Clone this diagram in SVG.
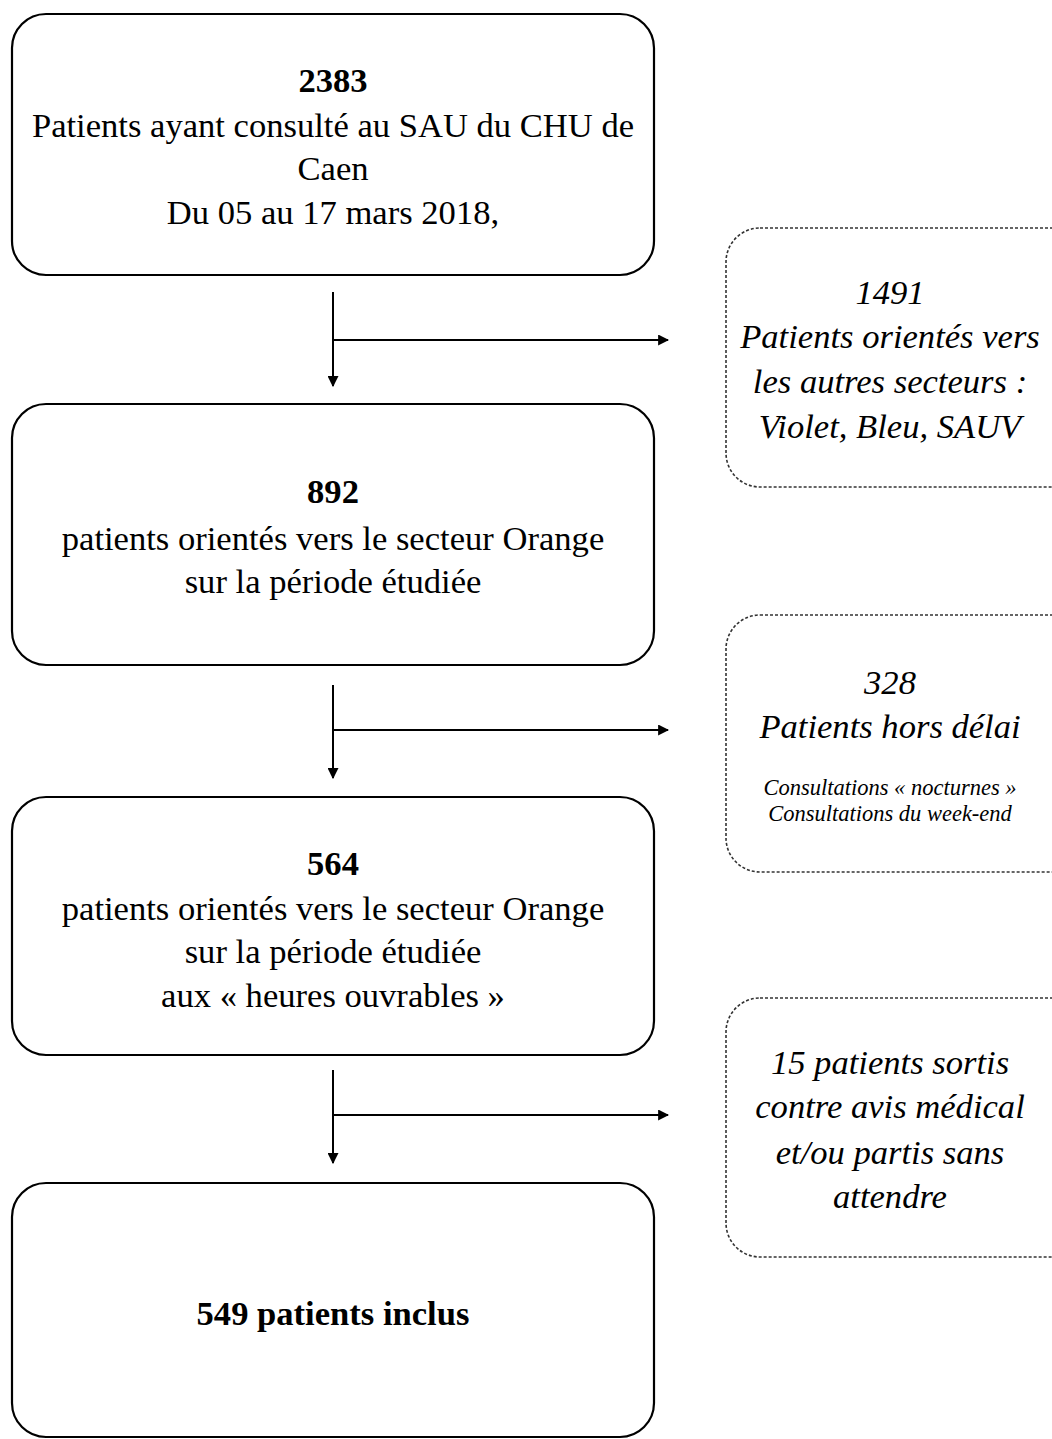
<svg xmlns="http://www.w3.org/2000/svg" width="1052" height="1439" viewBox="0 0 1052 1439">
<style>
.box{fill:#fff;stroke:#000;stroke-width:2.2}
.dbox{fill:#fff;stroke:#333;stroke-width:1.6;stroke-dasharray:3 2}
.t{font-family:"Liberation Serif","Times New Roman",serif;font-size:34.6px;fill:#000;text-anchor:middle}
.b{font-weight:bold}
.i{font-style:italic}
.s{font-size:22.5px}
.c{stroke:#000;stroke-width:2;fill:none}
</style>
<defs>
<marker id="ah" viewBox="0 0 10 10" refX="9" refY="5" markerWidth="5.5" markerHeight="5.5" orient="auto" markerUnits="strokeWidth">
<path d="M0,0 L10,5 L0,10 z" fill="#000"/>
</marker>
</defs>
<rect width="1052" height="1439" fill="#fff"/>
<g id="connectors">
<path class="c" d="M333,292 V386" marker-end="url(#ah)"/>
<path class="c" d="M333,340 H668" marker-end="url(#ah)"/>
<path class="c" d="M333,685 V778" marker-end="url(#ah)"/>
<path class="c" d="M333,730 H668" marker-end="url(#ah)"/>
<path class="c" d="M333,1070 V1163" marker-end="url(#ah)"/>
<path class="c" d="M333,1115 H668" marker-end="url(#ah)"/>
</g>
<g id="n1">
<rect class="box" x="12" y="14" width="642" height="261" rx="34"/>
<text class="t b" x="333" y="92">2383</text>
<text class="t" x="333" y="137">Patients ayant consulté au SAU du CHU de</text>
<text class="t" x="333" y="180">Caen</text>
<text class="t" x="333" y="224">Du 05 au 17 mars 2018,</text>
</g>
<g id="n2">
<rect class="box" x="12" y="404" width="642" height="261" rx="34"/>
<text class="t b" x="333" y="503">892</text>
<text class="t" x="333" y="550">patients orientés vers le secteur Orange</text>
<text class="t" x="333" y="593">sur la période étudiée</text>
</g>
<g id="n3">
<rect class="box" x="12" y="797" width="642" height="258" rx="34"/>
<text class="t b" x="333" y="875">564</text>
<text class="t" x="333" y="920">patients orientés vers le secteur Orange</text>
<text class="t" x="333" y="963">sur la période étudiée</text>
<text class="t" x="333" y="1007">aux « heures ouvrables »</text>
</g>
<g id="n4">
<rect class="box" x="12" y="1183" width="642" height="254" rx="34"/>
<text class="t b" x="333" y="1325">549 patients inclus</text>
</g>
<g id="d1">
<rect class="dbox" x="726" y="228" width="360" height="259" rx="34"/>
<text class="t i" x="890" y="304">1491</text>
<text class="t i" x="890" y="348">Patients orientés vers</text>
<text class="t i" x="890" y="393">les autres secteurs :</text>
<text class="t i" x="890" y="438">Violet, Bleu, SAUV</text>
</g>
<g id="d2">
<rect class="dbox" x="726" y="615" width="360" height="257" rx="34"/>
<text class="t i" x="890" y="694">328</text>
<text class="t i" x="890" y="738">Patients hors délai</text>
<text class="t i s" x="890" y="795">Consultations « nocturnes »</text>
<text class="t i s" x="890" y="821">Consultations du week-end</text>
</g>
<g id="d3">
<rect class="dbox" x="726" y="998" width="360" height="259" rx="34"/>
<text class="t i" x="890" y="1074">15 patients sortis</text>
<text class="t i" x="890" y="1118">contre avis médical</text>
<text class="t i" x="890" y="1164">et/ou partis sans</text>
<text class="t i" x="890" y="1208">attendre</text>
</g>
</svg>
